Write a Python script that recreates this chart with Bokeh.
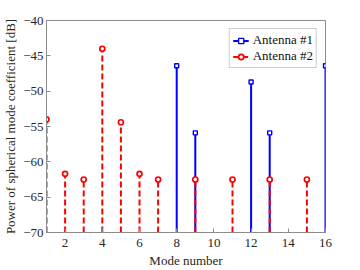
from bokeh.plotting import figure
from bokeh.models import Range1d, Legend, LegendItem, FixedTicker
from bokeh.embed import file_html
from bokeh.resources import INLINE

# Data
modes_a1 = [8, 9, 12, 13, 16]
power_a1 = [-46.4, -55.9, -48.7, -55.9, -46.4]
modes_a2 = [1, 2, 3, 4, 5, 6, 7, 9, 11, 13, 15]
power_a2 = [-54.0, -61.7, -62.5, -44.0, -54.4, -61.7, -62.5, -62.5, -62.5, -62.5, -62.5]
baseline = -70
x_ticks = [2, 4, 6, 8, 10, 12, 14, 16]
y_ticks = [-70, -65, -60, -55, -50, -45, -40]

FONT = "Liberation Serif"
AX = "#8c8c8c"

p = figure(frame_width=279, frame_height=212, output_backend="svg", toolbar_location=None,
           x_range=Range1d(1, 16), y_range=Range1d(-70, -40),
           min_border_left=39, min_border_right=26, min_border_top=20, min_border_bottom=28)
p.xgrid.visible = False
p.ygrid.visible = False
p.outline_line_color = AX
p.outline_line_width = 1
p.background_fill_color = "white"

blue = "#0000ff"
red = "#ff0000"

b_seg = p.segment(x0=modes_a1, y0=[baseline] * len(modes_a1), x1=modes_a1, y1=power_a1,
                  line_color=blue, line_width=2)
b_mk = p.scatter(modes_a1, power_a1, marker="square", size=4, fill_color="white",
                 line_color=blue, line_width=1.4)
r_seg = p.segment(x0=modes_a2, y0=[baseline] * len(modes_a2), x1=modes_a2, y1=power_a2,
                  line_color=red, line_width=2, line_dash="6 3")
r_mk = p.scatter(modes_a2, power_a2, marker="circle", size=5, fill_color="white",
                 line_color=red, line_width=1.7)

for ax in (p.xaxis[0], p.yaxis[0]):
    ax.axis_line_color = AX
    ax.major_tick_line_color = AX
    ax.minor_tick_line_color = None
    ax.major_tick_in = 4
    ax.major_tick_out = 0
    ax.major_label_text_font = FONT
    ax.major_label_text_font_size = "13px"
    ax.major_label_text_color = "#262626"
    ax.axis_label_text_font = FONT
    ax.axis_label_text_font_size = "13px"
    ax.axis_label_text_font_style = "normal"
    ax.axis_label_text_color = "#262626"
    ax.major_label_standoff = 3
    ax.axis_label_standoff = 2

p.xaxis.major_label_standoff = 6
p.xaxis.axis_label_standoff = 3
p.xaxis.ticker = FixedTicker(ticks=x_ticks)
p.yaxis.ticker = FixedTicker(ticks=y_ticks)
p.xaxis.axis_label = "Mode number"
p.yaxis.axis_label = "Power of spherical mode coefficient [dB]"

legend = Legend(items=[LegendItem(label="Antenna #1", renderers=[b_seg, b_mk]),
                       LegendItem(label="Antenna #2", renderers=[r_seg, r_mk])],
                location="top_right", label_text_font=FONT, label_text_font_size="13px",
                label_text_color="#111111", border_line_color="#999999",
                background_fill_alpha=1.0, glyph_width=16, glyph_height=13,
                label_standoff=4, spacing=0, padding=3, margin=8,
                label_height=13)
p.add_layout(legend)

open("out.html", "w").write(file_html(p, INLINE))
